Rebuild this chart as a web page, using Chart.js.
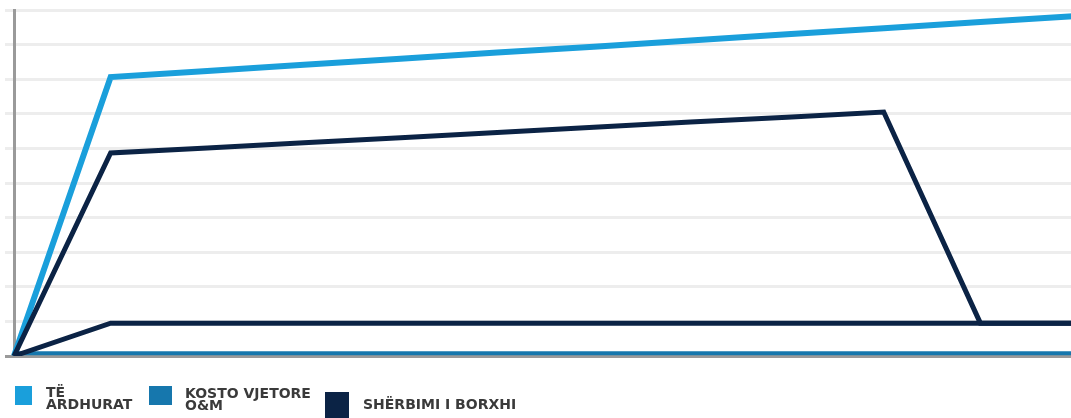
<!DOCTYPE html>
<html>
<head>
<meta charset="utf-8">
<title>Të ardhurat dhe shpenzimet</title>
<script src="https://cdn.jsdelivr.net/npm/chart.js@4.4.1/dist/chart.umd.min.js"></script>
<style>
  html, body { margin: 0; padding: 0; background: #fff; width: 1071px; height: 418px; overflow: hidden; }
  #myLineChart { position: absolute; left: 0; top: 0; }
  #legend { position: absolute; left: 0; top: 0; width: 1071px; height: 418px; pointer-events: none; }
  .lg-box { position: absolute; }
  .lg-text {
    position: absolute;
    font-family: "DejaVu Sans", sans-serif;
    font-weight: 700;
    font-size: 14px;
    line-height: 12px;
    color: #3a3a3a;
  }
</style>
</head>
<body>
<canvas id="myLineChart" width="1078" height="370"></canvas>
<div id="legend"></div>
<script>
// x positions (years), labels hidden in the picture
const labels = ['0', '1', '2', '3', '4', '5', '6', '7', '8', '9', '10', '11'];

// values (gridline step = 1)
const teArdhurat = [0, 8.06, 8.24, 8.42, 8.59, 8.77, 8.94, 9.12, 9.30, 9.47, 9.65, 9.83];
const kostoOM = [0.08, 0.08, 0.08, 0.08, 0.08, 0.08, 0.08, 0.08, 0.08, 0.08, 0.08, 0.08];
const sherbimiBorxhit = [0, 0.95, 0.95, 0.95, 0.95, 0.95, 0.95, 0.95, 0.95, 0.95, 0.95, 0.95];
const sherbimiTotal = [0, 5.87, 6.01, 6.16, 6.31, 6.46, 6.61, 6.76, 6.90, 7.05, 0.95, 0.95];

const legendLabels = ['TË ARDHURAT', 'KOSTO VJETORE O&M', 'SHËRBIMI I BORXHI'];

const lightBlue = '#1a9fdb';
const midBlue = '#1677ad';
const navy = '#0b2345';

// where each legend entry sits (box left/top/w/h, text left/top/width)
const legendSpots = [
  { bx: 15, by: 386, bw: 17, bh: 19, tx: 46, ty: 386, tw: 95 },
  { bx: 149, by: 386, bw: 23, bh: 19, tx: 185, ty: 387, tw: 135 },
  { bx: 325, by: 392, bw: 24, bh: 26, tx: 363, ty: 398, tw: 200 }
];

const htmlLegend = {
  id: 'htmlLegend',
  afterUpdate(chart) {
    const box = document.getElementById('legend');
    box.innerHTML = '';
    chart.data.datasets.forEach((ds, i) => {
      if (!ds.label) return;
      const spot = legendSpots[i];
      const sq = document.createElement('div');
      sq.className = 'lg-box';
      sq.style.cssText = `left:${spot.bx}px;top:${spot.by}px;width:${spot.bw}px;height:${spot.bh}px;background:${ds.borderColor}`;
      const txt = document.createElement('div');
      txt.className = 'lg-text';
      txt.style.cssText = `left:${spot.tx}px;top:${spot.ty}px;width:${spot.tw}px`;
      txt.textContent = ds.label;
      box.appendChild(sq);
      box.appendChild(txt);
    });
  }
};

let ctx = document.getElementById('myLineChart').getContext('2d');
let chart = new Chart(ctx, {
  type: 'line',
  data: {
    labels: labels,
    datasets: [
      { label: legendLabels[0], data: teArdhurat, borderColor: lightBlue, backgroundColor: lightBlue, borderWidth: 6, order: 3 },
      { label: legendLabels[1], data: kostoOM, borderColor: midBlue, backgroundColor: midBlue, borderWidth: 4, order: 2 },
      { label: legendLabels[2], data: sherbimiBorxhit, borderColor: navy, backgroundColor: navy, borderWidth: 5, order: 1 },
      { label: '', data: sherbimiTotal, borderColor: navy, backgroundColor: navy, borderWidth: 5, order: 0 }
    ]
  },
  options: {
    responsive: false,
    devicePixelRatio: 1,
    animation: false,
    layout: { padding: { left: 5, top: 10, right: 1, bottom: 14 } },
    elements: {
      point: { radius: 0, hoverRadius: 0 },
      line: { tension: 0, borderJoinStyle: 'miter', borderCapStyle: 'butt', fill: false }
    },
    plugins: {
      legend: { display: false },
      tooltip: { enabled: false }
    },
    scales: {
      x: {
        type: 'category',
        offset: false,
        ticks: { display: false },
        grid: { display: false, drawTicks: false },
        border: { display: true, color: '#9a9a9a', width: 3 }
      },
      y: {
        min: 0,
        max: 10,
        ticks: { display: false, stepSize: 1 },
        grid: {
          color: (c) => (c.tick && c.tick.value === 0 ? '#9a9a9a' : '#ededed'),
          lineWidth: 3,
          drawTicks: true,
          tickLength: 9
        },
        border: { display: true, color: '#9a9a9a', width: 3 }
      }
    }
  },
  plugins: [htmlLegend]
});
</script>
</body>
</html>
